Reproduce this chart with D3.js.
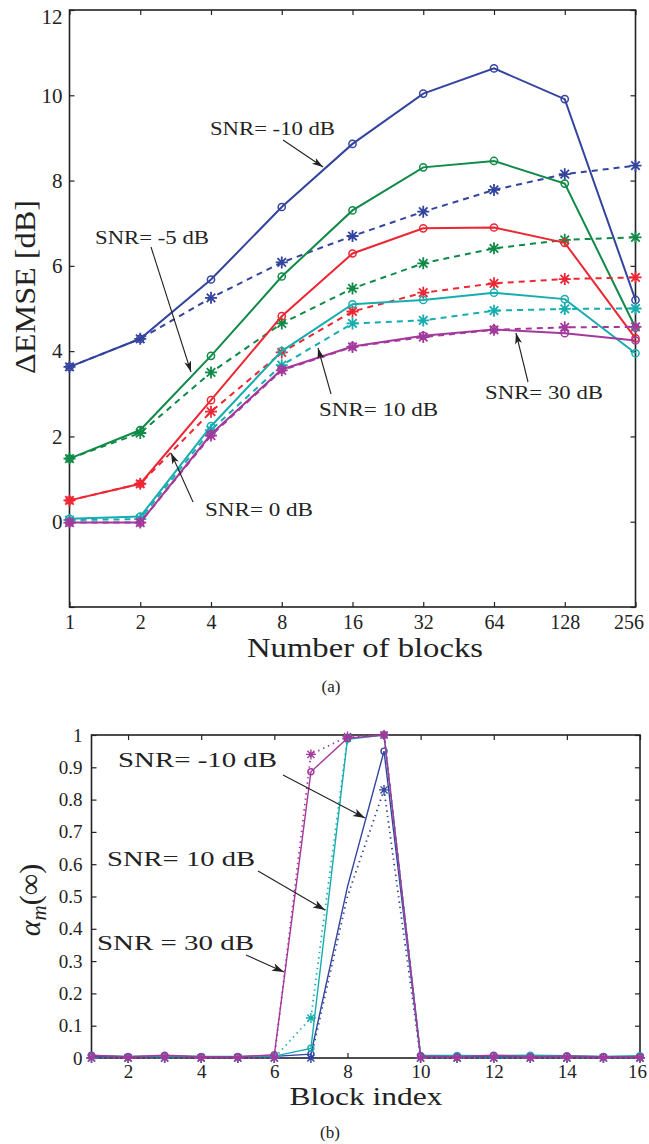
<!DOCTYPE html>
<html><head><meta charset="utf-8">
<script src="https://cdn.jsdelivr.net/npm/d3@7/dist/d3.min.js"></script>
<style>body{margin:0;background:#fff}svg text{font-family:"Liberation Serif","Times New Roman",serif;fill:#222}</style>
</head><body>
<svg id="c" width="649" height="1144"></svg>
<script>
// ---------- (a) data ----------
const blocks = [1, 2, 4, 8, 16, 32, 64, 128, 256];
const blueSolidA    = [3.63, 4.29, 5.68, 7.38, 8.86, 10.04, 10.63, 9.91, 5.20];
const blueDashedA   = [3.63, 4.29, 5.25, 6.08, 6.70, 7.27, 7.78, 8.15, 8.35];
const greenSolidA   = [1.48, 2.15, 3.89, 5.75, 7.30, 8.31, 8.46, 7.93, 4.55];
const greenDashedA  = [1.48, 2.08, 3.50, 4.65, 5.47, 6.06, 6.41, 6.61, 6.67];
const redSolidA     = [0.50, 0.89, 2.85, 4.82, 6.29, 6.88, 6.90, 6.54, 4.30];
const redDashedA    = [0.50, 0.89, 2.58, 3.97, 4.93, 5.37, 5.59, 5.69, 5.73];
const cyanSolidA    = [0.07, 0.12, 2.24, 4.00, 5.10, 5.20, 5.37, 5.22, 3.95];
const cyanDashedA   = [0.04, 0.06, 2.15, 3.67, 4.65, 4.72, 4.95, 4.99, 5.00];
const magentaSolidA = [-0.02, -0.02, 2.05, 3.57, 4.11, 4.36, 4.51, 4.42, 4.25];
const magentaDashedA= [-0.02, -0.02, 2.02, 3.55, 4.10, 4.33, 4.50, 4.56, 4.57];
const yTicksA = [-2, 0, 2, 4, 6, 8, 10, 12];
const yTickLabelsA = ["", "0", "2", "4", "6", "8", "10", "12"];
const annotA = ["SNR= -10 dB", "SNR= -5 dB", "SNR= 0 dB", "SNR= 10 dB", "SNR= 30 dB"];

// ---------- (b) data ----------
const blockIndex = [1, 2, 3, 4, 5, 6, 7, 8, 9, 10, 11, 12, 13, 14, 15, 16];
const blueSolidB    = [0.005,0.004,0.005,0.004,0.004,0.005,0.012,0.53,0.95,0.005,0.004,0.006,0.004,0.005,0.004,0.005];
const blueDottedB   = [0,0,0,0,0,0,0,0.50,0.83,0,0,0,0,0,0,0];
const cyanSolidB    = [0.008,0.005,0.007,0.005,0.005,0.006,0.03,0.987,1.0,0.008,0.008,0.007,0.009,0.007,0.005,0.007];
const cyanDottedB   = [0,0,0,0,0,0,0.124,0.99,1.0,0,0,0,0,0,0,0];
const magentaSolidB = [0.009,0.004,0.009,0.004,0.004,0.01,0.886,0.99,1.0,0.006,0.004,0.009,0.004,0.006,0.004,0.004];
const magentaDottedB= [0,0,0,0,0,0,0.94,0.995,1.0,0,0,0,0,0,0,0];
const blueNoMarkerAt = [8];
const xTicksB = [2, 4, 6, 8, 10, 12, 14, 16];
const yTicksB = [0, 0.1, 0.2, 0.3, 0.4, 0.5, 0.6, 0.7, 0.8, 0.9, 1];
const yTickLabelsB = ["0","0.1","0.2","0.3","0.4","0.5","0.6","0.7","0.8","0.9","1"];
const annotB = ["SNR= -10 dB", "SNR= 10 dB", "SNR = 30 dB"];

const C = {blue:"#33449e", green:"#0f8a47", red:"#ec2733", cyan:"#16adb0", magenta:"#a3399c"};
const svg = d3.select("#c");

function starPath(r){const a=r*0.7071;return `M${-r},0L${r},0M0,${-r}L0,${r}M${-a},${-a}L${a},${a}M${-a},${a}L${a},${-a}`;}

function arrow(g, x1, y1, x2, y2, len, wid){
  g.append("line").attr("x1",x1).attr("y1",y1).attr("x2",x2).attr("y2",y2)
    .attr("stroke","#222").attr("stroke-width",1.1);
  const ang=Math.atan2(y2-y1,x2-x1), c=Math.cos(ang), s=Math.sin(ang);
  const bx=x2-len*c, by=y2-len*s;
  g.append("path").attr("d",`M${x2},${y2}L${bx-wid*s},${by+wid*c}L${bx+len*0.25*c},${by+len*0.25*s}L${bx+wid*s},${by-wid*c}Z`).attr("fill","#222");
}

// ================= (a) =================
const xA = d3.scaleLog().base(2).domain([1,256]).range([69.5,635.5]);
const yA = d3.scaleLinear().domain([-2,12]).range([607,10]);
const gA = svg.append("g");

function axisStyle(sel){sel.select(".domain").remove();sel.selectAll(".tick line").attr("stroke","#222").attr("stroke-width",1.2);}
const xAxA = gA.append("g").attr("transform","translate(0,607)")
  .call(d3.axisBottom(xA).tickValues(blocks).tickFormat(d3.format("d")).tickSizeInner(-5).tickSizeOuter(0).tickPadding(8))
  .call(axisStyle);
xAxA.selectAll("text").attr("font-size",20).attr("font-family","Liberation Serif")
  .attr("dx",d=>d===256?-7:0);
gA.append("g").attr("transform","translate(0,10)")
  .call(d3.axisTop(xA).tickValues(blocks).tickFormat("").tickSizeInner(-5).tickSizeOuter(0)).call(axisStyle);
gA.append("g").attr("transform","translate(69.5,0)")
  .call(d3.axisLeft(yA).tickValues(yTicksA).tickFormat((d,i)=>yTickLabelsA[i]).tickSizeInner(-5).tickSizeOuter(0).tickPadding(7))
  .call(axisStyle).selectAll("text").attr("font-size",21).attr("font-family","Liberation Serif")
  .attr("dy",d=>d===12?"0.62em":"0.32em");
gA.append("g").attr("transform","translate(635.5,0)")
  .call(d3.axisRight(yA).tickValues(yTicksA).tickFormat("").tickSizeInner(-5).tickSizeOuter(0)).call(axisStyle);
gA.append("rect").attr("x",69.5).attr("y",10).attr("width",566).attr("height",597)
  .attr("fill","none").attr("stroke","#222").attr("stroke-width",1.6);

const seriesA = [
  {v:blueSolidA,c:C.blue,dash:null,m:"o"},{v:blueDashedA,c:C.blue,dash:"6,5",m:"*"},
  {v:greenSolidA,c:C.green,dash:null,m:"o"},{v:greenDashedA,c:C.green,dash:"6,5",m:"*"},
  {v:redSolidA,c:C.red,dash:null,m:"o"},{v:redDashedA,c:C.red,dash:"6,5",m:"*"},
  {v:cyanSolidA,c:C.cyan,dash:null,m:"o"},{v:cyanDashedA,c:C.cyan,dash:"6,5",m:"*"},
  {v:magentaSolidA,c:C.magenta,dash:null,m:"o"},{v:magentaDashedA,c:C.magenta,dash:"6,5",m:"*"}
];
const lineA = d3.line().x((d,i)=>xA(blocks[i])).y(d=>yA(d));
seriesA.forEach(s=>{
  gA.append("path").attr("d",lineA(s.v)).attr("fill","none").attr("stroke",s.c)
    .attr("stroke-width",2).attr("stroke-dasharray",s.dash);
  s.v.forEach((d,i)=>{
    const x=xA(blocks[i]), y=yA(d);
    if(s.m==="o") gA.append("circle").attr("cx",x).attr("cy",y).attr("r",3.6).attr("fill","none").attr("stroke",s.c).attr("stroke-width",1.5);
    else gA.append("path").attr("transform",`translate(${x},${y})`).attr("d",starPath(6)).attr("stroke",s.c).attr("stroke-width",1.8);
  });
});

// annotations (a)
const annA = [
  {t:annotA[0], x:210, y:135, w:125, a:[283,140,323,167]},
  {t:annotA[1], x:95,  y:244, w:114, a:[151,247,191,372]},
  {t:annotA[2], x:205, y:516, w:108, a:[193,502,171,453]},
  {t:annotA[3], x:319, y:416, w:119, a:[331,394,318,348]},
  {t:annotA[4], x:485, y:399, w:118, a:[528,382,516,333]}
];
annA.forEach(o=>{
  gA.append("text").attr("x",o.x).attr("y",o.y).attr("font-size",19)
    .attr("textLength",o.w).attr("lengthAdjust","spacingAndGlyphs").text(o.t);
  arrow(gA,o.a[0],o.a[1],o.a[2],o.a[3],11,3.5);
});
gA.append("text").attr("x",365).attr("y",657).attr("text-anchor","middle").attr("font-size",28)
  .attr("textLength",236).attr("lengthAdjust","spacingAndGlyphs").text("Number of blocks");
gA.append("text").attr("transform","translate(35,287) rotate(-90)").attr("text-anchor","middle").attr("font-size",30)
  .attr("textLength",174).attr("lengthAdjust","spacingAndGlyphs").text("ΔEMSE [dB]");
gA.append("text").attr("x",331).attr("y",692).attr("text-anchor","middle").attr("font-size",17).text("(a)");

// ================= (b) =================
const xB = d3.scaleLinear().domain([1,16]).range([91.5,640]);
const yB = d3.scaleLinear().domain([0,1]).range([1058,735]);
const gB = svg.append("g");
gB.append("g").attr("transform","translate(0,1058)")
  .call(d3.axisBottom(xB).tickValues(xTicksB).tickFormat(d3.format("d")).tickSizeInner(-5).tickSizeOuter(0).tickPadding(7))
  .call(axisStyle).selectAll("text").attr("font-size",19).attr("font-family","Liberation Serif")
  .attr("dx",d=>d===16?-3:0);
gB.append("g").attr("transform","translate(0,735)")
  .call(d3.axisTop(xB).tickValues(xTicksB).tickFormat("").tickSizeInner(-5).tickSizeOuter(0)).call(axisStyle);
gB.append("g").attr("transform","translate(91.5,0)")
  .call(d3.axisLeft(yB).tickValues(yTicksB).tickFormat((d,i)=>yTickLabelsB[i]).tickSizeInner(-5).tickSizeOuter(0).tickPadding(9))
  .call(axisStyle).selectAll("text").attr("font-size",19).attr("font-family","Liberation Serif");
gB.append("g").attr("transform","translate(640,0)")
  .call(d3.axisRight(yB).tickValues(yTicksB).tickFormat("").tickSizeInner(-5).tickSizeOuter(0)).call(axisStyle);
gB.append("rect").attr("x",91.5).attr("y",735).attr("width",548.5).attr("height",323)
  .attr("fill","none").attr("stroke","#222").attr("stroke-width",1.6);

const seriesB = [
  {v:blueSolidB,c:C.blue,dash:null,m:"o",skip:blueNoMarkerAt},{v:blueDottedB,c:C.blue,dash:"1.4,4",m:"*",skip:blueNoMarkerAt},
  {v:cyanSolidB,c:C.cyan,dash:null,m:"o",skip:[]},{v:cyanDottedB,c:C.cyan,dash:"1.4,4",m:"*",skip:[]},
  {v:magentaSolidB,c:C.magenta,dash:null,m:"o",skip:[]},{v:magentaDottedB,c:C.magenta,dash:"1.4,4",m:"*",skip:[]}
];
const lineB = d3.line().x((d,i)=>xB(blockIndex[i])).y(d=>yB(d));
seriesB.forEach(s=>{
  gB.append("path").attr("d",lineB(s.v)).attr("fill","none").attr("stroke",s.c)
    .attr("stroke-width",s.dash?1.8:1.4).attr("stroke-dasharray",s.dash);
  s.v.forEach((d,i)=>{
    if(s.skip.includes(blockIndex[i])) return;
    const x=xB(blockIndex[i]), y=yB(d);
    if(s.m==="o") gB.append("circle").attr("cx",x).attr("cy",y).attr("r",3).attr("fill","none").attr("stroke",s.c).attr("stroke-width",1.4);
    else gB.append("path").attr("transform",`translate(${x},${y})`).attr("d",starPath(5)).attr("stroke",s.c).attr("stroke-width",1.4);
  });
});

const annB = [
  {t:annotB[0], x:118, y:767, w:159, a:[283,775,365,818]},
  {t:annotB[1], x:107, y:866, w:148, a:[258,871,325,910]},
  {t:annotB[2], x:97,  y:950, w:157, a:[246,955,284,972]}
];
annB.forEach(o=>{
  gB.append("text").attr("x",o.x).attr("y",o.y).attr("font-size",20)
    .attr("textLength",o.w).attr("lengthAdjust","spacingAndGlyphs").text(o.t);
  arrow(gB,o.a[0],o.a[1],o.a[2],o.a[3],12,4);
});
gB.append("text").attr("x",366).attr("y",1105).attr("text-anchor","middle").attr("font-size",25)
  .attr("textLength",153).attr("lengthAdjust","spacingAndGlyphs").text("Block index");
const yl = gB.append("text").attr("transform","translate(40,900) rotate(-90)").attr("text-anchor","middle").attr("font-size",30);
yl.append("tspan").attr("font-style","italic").text("α");
yl.append("tspan").attr("font-style","italic").attr("font-size",21).attr("dy",6).text("m");
yl.append("tspan").attr("dy",-6).text("(∞)");
gB.append("text").attr("x",330).attr("y",1138).attr("text-anchor","middle").attr("font-size",17).text("(b)");
</script>
</body></html>
